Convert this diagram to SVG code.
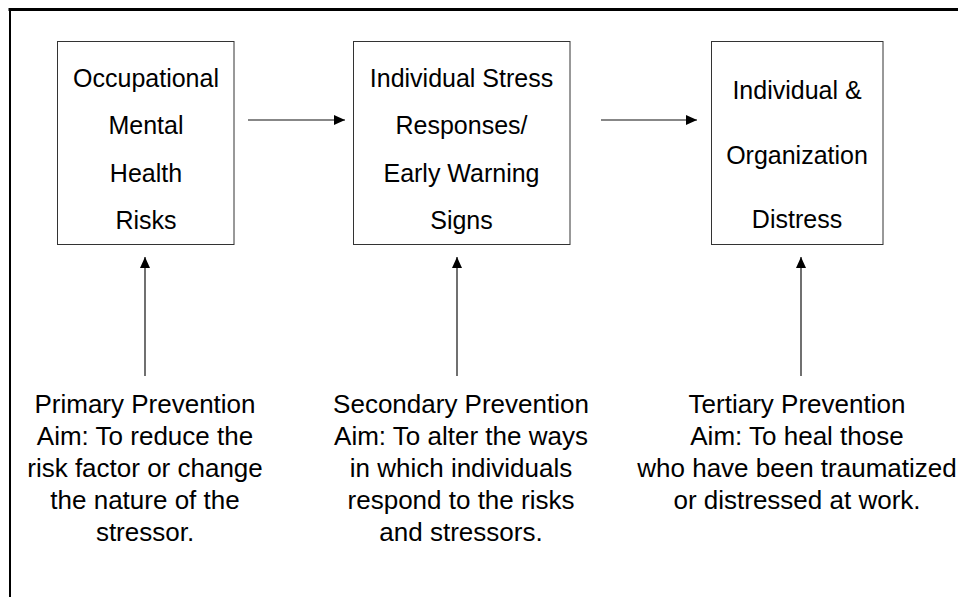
<svg xmlns="http://www.w3.org/2000/svg" width="958" height="597" viewBox="0 0 958 597">
<defs>
<style>
.box{fill:#fff;stroke:#333;stroke-width:1}
.t{font-family:"Liberation Sans",Arial,sans-serif;font-size:25px;fill:#000;text-anchor:middle}
.b{font-family:"Liberation Sans",Arial,sans-serif;font-size:26px;fill:#000;text-anchor:middle}
.c{stroke:#111;stroke-width:1.2;fill:none}
</style>
<marker id="ah" markerWidth="12" markerHeight="10" refX="11" refY="5" orient="auto" markerUnits="userSpaceOnUse">
<path d="M0,0 L11,5 L0,10 Z" fill="#000"/>
</marker>
</defs>
<rect width="958" height="597" fill="#fff"/>
<g id="frame">
<line x1="8.5" y1="9.5" x2="958" y2="9.5" stroke="#000" stroke-width="3"/>
<line x1="10" y1="8" x2="10" y2="597" stroke="#000" stroke-width="2"/>
</g>
<g id="connectors">
<line class="c" x1="248" y1="120" x2="345" y2="120" marker-end="url(#ah)"/>
<line class="c" x1="601" y1="120" x2="697" y2="120" marker-end="url(#ah)"/>
<line class="c" x1="145" y1="376" x2="145" y2="257" marker-end="url(#ah)"/>
<line class="c" x1="457" y1="376" x2="457" y2="257" marker-end="url(#ah)"/>
<line class="c" x1="801" y1="376" x2="801" y2="257" marker-end="url(#ah)"/>
</g>
<g id="node1">
<rect class="box" x="57.5" y="41.5" width="176.5" height="203"/>
<text class="t" x="146" y="87">Occupational</text>
<text class="t" x="146" y="134">Mental</text>
<text class="t" x="146" y="182">Health</text>
<text class="t" x="146" y="229">Risks</text>
</g>
<g id="node2">
<rect class="box" x="353.5" y="41.5" width="216.5" height="203"/>
<text class="t" x="461.5" y="87">Individual Stress</text>
<text class="t" x="461.5" y="134">Responses/</text>
<text class="t" x="461.5" y="182">Early Warning</text>
<text class="t" x="461.5" y="229">Signs</text>
</g>
<g id="node3">
<rect class="box" x="711.5" y="41.5" width="171.5" height="203"/>
<text class="t" x="797" y="99">Individual &amp;</text>
<text class="t" x="797" y="164">Organization</text>
<text class="t" x="797" y="228">Distress</text>
</g>
<g id="primary">
<text class="b" x="145" y="413">Primary Prevention</text>
<text class="b" x="145" y="445">Aim: To reduce the</text>
<text class="b" x="145" y="477">risk factor or change</text>
<text class="b" x="145" y="509">the nature of the</text>
<text class="b" x="145" y="541">stressor.</text>
</g>
<g id="secondary">
<text class="b" x="461" y="413">Secondary Prevention</text>
<text class="b" x="461" y="445">Aim: To alter the ways</text>
<text class="b" x="461" y="477">in which individuals</text>
<text class="b" x="461" y="509">respond to the risks</text>
<text class="b" x="461" y="541">and stressors.</text>
</g>
<g id="tertiary">
<text class="b" x="797" y="413">Tertiary Prevention</text>
<text class="b" x="797" y="445">Aim: To heal those</text>
<text class="b" x="797" y="477">who have been traumatized</text>
<text class="b" x="797" y="509">or distressed at work.</text>
</g>
</svg>
